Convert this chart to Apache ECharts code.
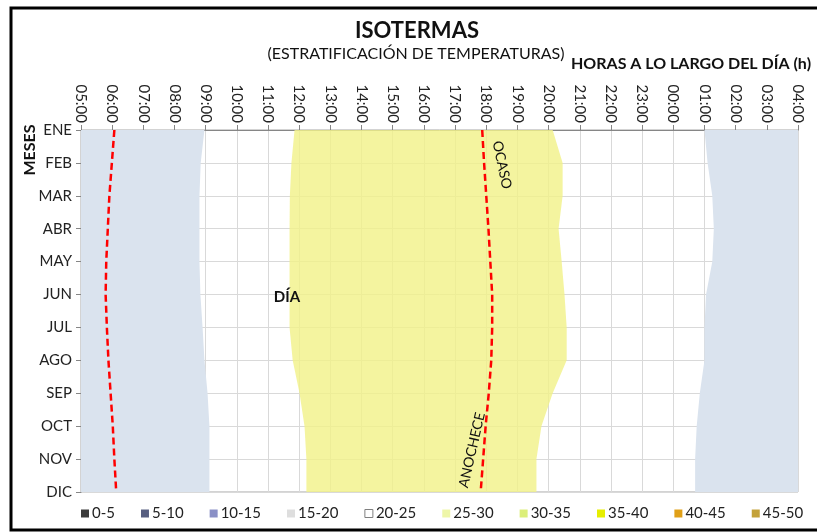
<!DOCTYPE html>
<html>
<head>
<meta charset="utf-8">
<script src="https://cdn.jsdelivr.net/npm/echarts@6/dist/echarts.min.js"></script>
<style>
html,body{margin:0;padding:0;background:#fff;}
#c{width:817px;height:532px;}
</style>
</head>
<body>
<div id="c"></div>
<script>
// ---- data ----
var months = ['ENE','FEB','MAR','ABR','MAY','JUN','JUL','AGO','SEP','OCT','NOV','DIC'];
var hourLabels = ['05:00','06:00','07:00','08:00','09:00','10:00','11:00','12:00','13:00','14:00','15:00','16:00',
                  '17:00','18:00','19:00','20:00','21:00','22:00','23:00','00:00','01:00','02:00','03:00','04:00'];
var bandNames = ['0-5','5-10','10-15','15-20','20-25','25-30','30-35','35-40','40-45','45-50'];
var bandColors = ['#3b3b3b','#575e80','#8a90c6','#dedede','#ffffff','#eef6a8','#dcef7a','#e6ee00','#e0a018','#c4a23a'];
// isotherm boundaries (clock time, decimal hours)
var cool1520MorningEnd = [8.96, 8.84, 8.80, 8.80, 8.80, 8.83, 8.90, 8.96, 9.06, 9.12, 9.12, 9.12];
var warm2530Start      = [11.85, 11.75, 11.70, 11.69, 11.69, 11.69, 11.69, 11.79, 12.01, 12.17, 12.23, 12.23];
var warm2530End        = [20.13, 20.45, 20.45, 20.32, 20.42, 20.51, 20.58, 20.58, 20.13, 19.77, 19.61, 19.61];
var cool1520NightStart = [1.00, 1.10, 1.25, 1.30, 1.25, 1.05, 1.00, 1.00, 0.85, 0.75, 0.70, 0.70];
// sunrise / sunset lines
var sunrise = [6.07, 5.99, 5.91, 5.86, 5.81, 5.79, 5.83, 5.88, 5.95, 6.02, 6.07, 6.13];
var sunset  = [17.87, 17.93, 18.00, 18.07, 18.13, 18.19, 18.19, 18.16, 18.08, 17.98, 17.90, 17.82];

function toAxis(h){ return h < 5 ? h + 19 : h - 5; }

var chart = echarts.init(document.getElementById('c'), null, {renderer:'canvas'});
var FONT = 'Lato, "Open Sans", sans-serif';

function polyItem(api, pts, fill, opacity){
  return {
    type:'polygon',
    shape:{points: pts.map(function(p){ return api.coord(p); })},
    style:{fill: fill, opacity: opacity, stroke:null},
    silent:true
  };
}

var bandSeries = bandNames.map(function(name, bi){
  var s = {
    name: name, type:'custom', coordinateSystem:'cartesian2d',
    itemStyle:{color: bandColors[bi]},
    data: [], z: 2,
    renderItem: function(){ return null; }
  };
  if (name === '15-20') {
    s.data = [[0,0],[1,0]];
    s.renderItem = function(params, api){
      var pts;
      if (params.dataIndex === 0) {
        pts = [[0,0]].concat(months.map(function(m,i){ return [toAxis(cool1520MorningEnd[i]), i]; }), [[0,11]]);
      } else {
        pts = months.map(function(m,i){ return [toAxis(cool1520NightStart[i]), i]; }).concat([[23,11],[23,0]]);
      }
      return polyItem(api, pts, '#dae3ee', 1);
    };
  } else if (name === '25-30') {
    s.data = [[0,0]];
    s.renderItem = function(params, api){
      var a = months.map(function(m,i){ return [toAxis(warm2530Start[i]), i]; });
      var b = months.map(function(m,i){ return [toAxis(warm2530End[i]), i]; }).reverse();
      return polyItem(api, a.concat(b), '#f2f28a', 0.82);
    };
  }
  return s;
});

var option = {
  animation:false,
  backgroundColor:'#ffffff',
  textStyle:{fontFamily: FONT},
  title:[
    {text:'ISOTERMAS', left:412, top:15, textAlign:'center',
     textStyle:{fontFamily:FONT, fontSize:22, fontWeight:'bold', color:'#111'}},
    {text:'(ESTRATIFICACIÓN DE TEMPERATURAS)', left:411, top:41, textAlign:'center',
     textStyle:{fontFamily:FONT, fontSize:16, fontWeight:'normal', color:'#111'}},
    {text:'HORAS A LO LARGO DEL DÍA (h)', left:686, top:51, textAlign:'center',
     textStyle:{fontFamily:FONT, fontSize:16, fontWeight:'bold', color:'#111'}}
  ],
  grid:{left:81, right:19, top:130, bottom:40, show:true, borderColor:'#a6a6a6', borderWidth:1, backgroundColor:'#fff'},
  legend:{
    left:76, top:501, itemWidth:8, itemHeight:8, itemGap:26, icon:'rect',
    textStyle:{fontFamily:FONT, fontSize:15, color:'#222', padding:[0,0,0,-2]},
    data: bandNames.map(function(n, i){
      var d = {name:n, itemStyle:{color:bandColors[i]}};
      if (n === '20-25') d.itemStyle = {color:'#ffffff', borderColor:'#7f7f7f', borderWidth:1};
      return d;
    }),
    selectedMode:false
  },
  xAxis:{
    type:'value', position:'top', min:0, max:23, interval:1,
    axisLine:{show:true, lineStyle:{color:'#868686'}},
    axisTick:{show:true, length:5, lineStyle:{color:'#868686'}},
    axisLabel:{rotate:90, margin:7, fontSize:15, color:'#222', fontFamily:FONT,
      formatter:function(v){ return hourLabels[v]; }},
    splitLine:{show:true, lineStyle:{color:'#d9d9d9', width:1}}
  },
  yAxis:{
    type:'category', data:months, inverse:true, boundaryGap:false,
    axisLine:{show:true, lineStyle:{color:'#868686'}},
    axisTick:{show:true, length:5, lineStyle:{color:'#868686'}},
    axisLabel:{fontSize:15, color:'#222', margin:9, fontFamily:FONT},
    splitLine:{show:true, lineStyle:{color:'#d9d9d9', width:1}}
  },
  series: bandSeries.concat([
    {name:'Amanecer', type:'line', symbol:'none', z:5,
     data: months.map(function(m,i){ return [toAxis(sunrise[i]), m]; }),
     lineStyle:{color:'#ff0000', width:2.5, type:[7,4]}},
    {name:'Ocaso', type:'line', symbol:'none', z:5,
     data: months.map(function(m,i){ return [toAxis(sunset[i]), m]; }),
     lineStyle:{color:'#ff0000', width:2.5, type:[7,4]}}
  ]),
  graphic:[
    {type:'rect', shape:{x:11, y:8, width:820, height:522}, style:{fill:null, stroke:'#000', lineWidth:3}, silent:true, z:100},
    {type:'text', x:30, y:150, rotation:Math.PI/2,
     style:{text:'MESES', font:'bold 16px ' + FONT, fill:'#111', align:'center', verticalAlign:'middle'}},
    {type:'text', x:287, y:297,
     style:{text:'DÍA', font:'bold 15px ' + FONT, fill:'#111', align:'center', verticalAlign:'middle'}, z:50},
    {type:'text', x:502, y:165, rotation:-78*Math.PI/180,
     style:{text:'OCASO', font:'14px ' + FONT, fill:'#111', align:'center', verticalAlign:'middle'}, z:50},
    {type:'text', x:472, y:450, rotation:77*Math.PI/180,
     style:{text:'ANOCHECE', font:'14px ' + FONT, fill:'#111', align:'center', verticalAlign:'middle'}, z:50}
  ]
};
chart.setOption(option);
</script>
</body>
</html>
